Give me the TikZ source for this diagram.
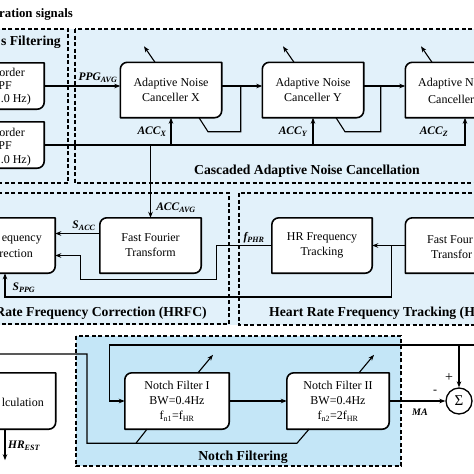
\documentclass[tikz,border=0pt]{standalone}
\usepackage{fontspec}
\setmainfont{Liberation Serif}
\usetikzlibrary{arrows.meta, calc, positioning}
\pgfdeclarelayer{back}
\pgfdeclarelayer{mid}
\pgfsetlayers{back,mid,main}

\definecolor{bandblue}{RGB}{226, 241, 250}
\definecolor{notchblue}{RGB}{196, 230, 247}

\newcommand{\blockfont}{\fontsize{12}{15}\selectfont}
\newcommand{\sigfont}{\fontsize{11.5}{13}\selectfont\bfseries\itshape}
\newcommand{\zonefont}{\fontsize{13.7}{15}\selectfont\bfseries}

% frame with rounded top-left and bottom-right corners
\newcommand{\drawblock}[1]{%
  \begin{pgfonlayer}{mid}
    \draw[blockline] (#1.south west) -- ([yshift=-7pt]#1.north west)
      arc[start angle=180, end angle=90, radius=7pt] -- (#1.north east)
      -- ([yshift=7pt]#1.south east)
      arc[start angle=0, end angle=-90, radius=7pt] -- cycle;
  \end{pgfonlayer}}

\begin{document}
\begin{tikzpicture}[x=1pt, y=-1pt,
    conn/.style={line width=1.1pt},
    arr/.style={conn, -{Stealth[length=6pt, width=4.5pt]}},
    blockline/.style={line width=1.6pt, fill=white, line join=round},
    block/.style={minimum width=101pt, minimum height=55pt, inner sep=0pt, align=center, font=\blockfont},
    frag/.style={inner sep=0pt, font=\blockfont},
    zone/.style={line width=1.3pt, dash pattern=on 4pt off 2.5pt},
    sig/.style={inner sep=0pt, font=\sigfont},
    zonetitle/.style={inner sep=0pt, font=\zonefont}]

  \useasboundingbox (0,0) rectangle (474,474);

  % shaded zones
  \begin{pgfonlayer}{back}
    \fill[bandblue] (0,29) rectangle (474,325);
    \fill[notchblue] (76,336) rectangle (401,466);
    \draw[zone] (-10,29) rectangle (68,183);
    \draw[zone] (75,29) rectangle (490,183);
    \draw[zone] (-10,193) rectangle (229,324);
    \draw[zone] (239,193) rectangle (490,325);
    \draw[zone] (76,336) rectangle (401,466);
  \end{pgfonlayer}

  % zone titles
  \node[zonetitle, anchor=east, font=\fontsize{12.8}{14}\selectfont\bfseries] (ttlsig) at (73,14) {ration signals};
  \node[zonetitle, anchor=east] (ttlfilt) at (61,42) {s Filtering};
  \node[zonetitle] (ttlanc) at (307,171) {Cascaded Adaptive Noise Cancellation};
  \node[zonetitle, anchor=east] (ttlhrfc) at (207,313) {Rate Frequency Correction (HRFC)};
  \node[zonetitle, anchor=west] (ttlhrft) at (269,313) {Heart Rate Frequency Tracking (H};
  \node[zonetitle] (ttlnotch) at (243,457) {Notch Filtering};

  % band-pass filters
  \node[block, minimum width=90pt, minimum height=46pt] (bpfppg) at (-1,86) {};
  \node[block, minimum width=90pt, minimum height=46pt] (bpfacc) at (-1,145) {};
  \drawblock{bpfppg}
  \drawblock{bpfacc}
  \node[frag, anchor=east] (bpfppga) at (25,72) {order};
  \node[frag, anchor=east] (bpfppgb) at (12,86) {PF};
  \node[frag, anchor=east] (bpfppgc) at (31,100) {.0 Hz)};
  \node[frag, anchor=east] (bpfacca) at (25,132) {order};
  \node[frag, anchor=east] (bpfaccb) at (12,146) {PF};
  \node[frag, anchor=east] (bpfaccc) at (31,161) {.0 Hz)};

  % adaptive noise cancellers
  \node[block] (ancx) at (171,90) {Adaptive Noise\\Canceller X};
  \node[block] (ancy) at (313,90) {Adaptive Noise\\Canceller Y};
  \node[block] (ancz) at (456,90) {};
  \drawblock{ancx}
  \drawblock{ancy}
  \drawblock{ancz}
  \node[frag, anchor=west] (ancza) at (418,84) {Adaptive N};
  \node[frag, anchor=west] (anczb) at (428,99) {Canceller};

  % frequency correction and tracking
  \node[block, minimum width=100pt] (freqcor) at (5,245.5) {};
  \node[block] (fftacc) at (150.5,245.5) {Fast Fourier\\Transform};
  \node[block, minimum width=100pt] (hrtrack) at (322,245.5) {HR Frequency\\Tracking};
  \node[block] (fftppg) at (456,245.5) {};
  \drawblock{freqcor}
  \drawblock{fftacc}
  \drawblock{hrtrack}
  \drawblock{fftppg}
  \node[frag, anchor=east] (freqcora) at (42,240) {equency};
  \node[frag, anchor=east] (freqcorb) at (33,254) {rection};
  \node[frag, anchor=west] (fftppga) at (427,240) {Fast Four};
  \node[frag, anchor=west] (fftppgb) at (431,254) {Transfor};

  % notch filters
  \node[block, minimum height=56pt] (hrcalc) at (5,401) {};
  \node[block, minimum width=104pt, minimum height=56pt] (notcha) at (177,401) {Notch Filter I\\BW=0.4Hz\\f\textsubscript{n1}=f\textsubscript{HR}};
  \node[block, minimum width=102pt, minimum height=56pt] (notchb) at (338,401) {Notch Filter II\\BW=0.4Hz\\f\textsubscript{n2}=2f\textsubscript{HR}};
  \drawblock{hrcalc}
  \drawblock{notcha}
  \drawblock{notchb}
  \node[frag, anchor=east] (hrcalca) at (44,402) {lculation};
  \node[circle, draw, line width=1.3pt, fill=white, minimum size=26pt, inner sep=0pt, font=\fontsize{15}{15}\selectfont] (sum) at (459,401) {Σ};

  % PPG path
  \draw[arr] (bpfppg.east) -- (bpfppg.east -| ancx.west);
  \draw[arr] ([yshift=4pt]ancx.east) -- ([yshift=4pt]ancy.west);
  \draw[arr] ([yshift=4pt]ancy.east) -- ([yshift=4pt]ancz.west);

  % error feedback
  \coordinate (errx) at ([xshift=19pt,yshift=4pt]ancx.east);
  \coordinate (erry) at ([xshift=17pt,yshift=4pt]ancy.east);
  \draw[conn] (errx) |- ([xshift=37pt,yshift=-14pt]ancx.south) -- ([xshift=28pt]ancx.south);
  \draw[conn] (erry) |- ([xshift=32pt,yshift=-14pt]ancy.south) -- ([xshift=23pt]ancy.south);

  % accelerometer reference
  \coordinate (accz) at ([xshift=9pt]ancz.south);
  \draw[arr] (bpfacc.east) -| (accz);
  \draw[arr] (ancx.south |- bpfacc.east) -- (ancx.south);
  \draw[arr] (ancy.south |- bpfacc.east) -- (ancy.south);
  \draw[arr] (fftacc.north |- bpfacc.east) -- (fftacc.north);

  % adaptation arrows
  \draw[arr] ([xshift=-16pt]ancx.north) -- ++(-11,-16);
  \draw[arr] ([xshift=-19pt]ancy.north) -- ++(-11,-16);
  \draw[arr] ([xshift=-24pt]ancz.north) -- ++(-11,-16);
  \draw[arr] ([xshift=21pt]notcha.north) -- ++(15,-18);
  \draw[arr] ([xshift=21pt]notchb.north) -- ++(15,-18);

  % spectra
  \draw[arr] ([yshift=12pt]fftacc.west) -- ([yshift=12pt]fftacc.west -| freqcor.east);
  \draw[arr] (hrtrack.west) -- ++(-55,0) -- ++(0,34) -| ([xshift=25pt,yshift=-10pt]freqcor.east) -- ([yshift=-10pt]freqcor.east);
  \draw[arr] (fftppg.west) -- (hrtrack.east);
  \coordinate (sppg) at ([xshift=-14pt]fftppg.west);
  \draw[arr] (sppg) -- ++(0,51.5) -| (freqcor.south);

  % notch filtering
  \coordinate (ppgraw) at (490,345);
  \coordinate (hrin) at (-10,354);
  \draw[arr] (ppgraw) -| ([xshift=-15pt]notcha.west) -- (notcha.west);
  \draw[arr] (sum.north |- ppgraw) -- (sum.north);
  \draw[arr] (notcha.east) -- (notchb.west);
  \draw[arr] (notchb.east) -- (sum.west);
  \draw[conn] (hrin) -| ([xshift=-90pt,yshift=-14pt]notcha.south) -- ([xshift=-41pt,yshift=-14pt]notchb.south) -- ([xshift=-29pt]notchb.south);
  \draw[conn] ([xshift=-41pt,yshift=-14pt]notcha.south) -- ([xshift=-30pt]notcha.south);
  \draw[arr] (hrcalc.south) -- ++(0,31);

  % signal labels
  \node[sig] (lppg) at (98,78) {PPG\textsubscript{AVG}};
  \node[sig] (laccx) at (152,132) {ACC\textsubscript{X}};
  \node[sig] (laccy) at (293,132) {ACC\textsubscript{Y}};
  \node[sig] (laccz) at (434,132) {ACC\textsubscript{Z}};
  \node[sig] (laccavg) at (176,208) {ACC\textsubscript{AVG}};
  \node[sig] (lsacc) at (84,226) {S\textsubscript{ACC}};
  \node[sig] (lfphr) at (254,238) {f\textsubscript{PHR}};
  \node[sig] (lsppg) at (24,288) {S\textsubscript{PPG}};
  \node[sig] (lhrest) at (24,446) {HR\textsubscript{EST}};
  \node[sig, font=\fontsize{10}{12}\selectfont\bfseries\itshape] (lma) at (420,412) {MA};
  \node[inner sep=0pt, font=\blockfont] (lminus) at (435,392) {-};
  \node[inner sep=0pt, font=\fontsize{14}{14}\selectfont] (lplus) at (449,378) {+};
\end{tikzpicture}
\end{document}
